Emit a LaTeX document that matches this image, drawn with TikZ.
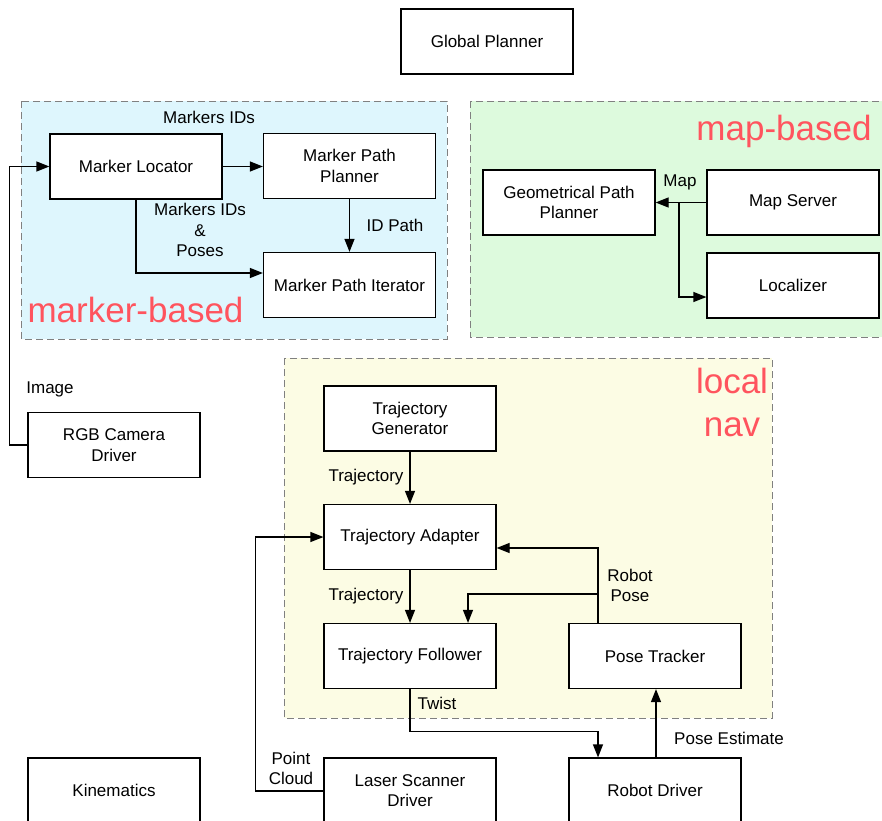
\documentclass[tikz,border=0pt]{standalone}
\usepackage{fontspec}
\setmainfont{Liberation Sans}
\usetikzlibrary{arrows.meta}
\definecolor{grpred}{RGB}{255,84,94}
\definecolor{cyanfill}{RGB}{222,246,253}
\definecolor{greenfill}{RGB}{221,250,221}
\definecolor{yellowfill}{RGB}{252,252,228}
\definecolor{dashgray}{RGB}{128,128,128}
\tikzset{
  blk/.style={draw=black, fill=white, line width=1.2pt, minimum width=172pt, minimum height=65pt,
    align=center, inner sep=2pt, font=\fontsize{17}{20.5}\selectfont},
  lbl/.style={inner sep=0pt, align=center, font=\fontsize{17}{20.5}\selectfont},
  grplbl/.style={inner sep=0pt, align=center, text=grpred, font=\fontsize{35}{43}\selectfont},
  grp/.style={draw=dashgray, line width=1pt, dash pattern=on 7pt off 4pt},
  arr/.style={line width=1.2pt, -{Triangle[length=13pt, width=10pt]}},
}
\begin{document}
\begin{tikzpicture}[x=1pt, y=-1pt]
\useasboundingbox (0,0) rectangle (882,820);
% groups
\draw[grp, fill=cyanfill] (21,101) rectangle (447,339);
\draw[grp, fill=greenfill] (470,101) rectangle (895,337);
\draw[grp, fill=yellowfill] (284,358) rectangle (772,718);
% group labels
\node[grplbl] (lblmarker) at (135.5,310) {marker-based};
\node[grplbl] (lblmap) at (784,131) {map-based};
\node[grplbl] (lbllocal) at (732,402) {local\\nav};
% blocks
\node[blk] (GP) at (487,41.5) {Global Planner};
\node[blk] (ML) at (136,166.5) {Marker Locator};
\node[blk] (MPP) at (349.5,166) {Marker Path\\Planner};
\node[blk] (MPI) at (349.5,285) {Marker Path Iterator};
\node[blk] (GPP) at (569,202.5) {Geometrical Path\\Planner};
\node[blk] (MS) at (793,202.5) {Map Server};
\node[blk] (LOC) at (793,285.5) {Localizer};
\node[blk] (RGB) at (114,445) {RGB Camera\\Driver};
\node[blk] (TG) at (410,418.5) {Trajectory\\Generator};
\node[blk] (TA) at (410,537) {Trajectory Adapter};
\node[blk] (TF) at (410,656) {Trajectory Follower};
\node[blk] (PT) at (655,656) {Pose Tracker};
\node[blk] (RD) at (655,790.5) {Robot Driver};
\node[blk] (LSD) at (410,790.5) {Laser Scanner\\Driver};
\node[blk] (KIN) at (114,790.5) {Kinematics};
% connectors
\draw[arr] (ML.east) -- (ML.east -| MPP.west);
\draw[arr] (MPP.south) -- (MPI.north);
\draw[arr] (ML.south) |- ([yshift=12pt]MPI.west);
\draw[arr] (RGB.west) -- ++(-18,0) |- (ML.west);
\draw[arr] (MS.west |- GPP.east) -- (GPP.east);
\coordinate (mapbr) at (679,202.5);
\draw[arr] (mapbr) |- ([yshift=-11.5pt]LOC.west);
\draw[arr] (TG.south) -- (TA.north);
\draw[arr] (TA.south) -- (TF.north);
\draw[arr] ([xshift=-57pt]PT.north) |- ([yshift=-11pt]TA.east);
\coordinate (posebr) at (598,594);
\draw[arr] (posebr) -| ([xshift=58pt]TF.north);
\draw[arr] (TF.south) -- ++(0,42) -| ([xshift=-57pt]RD.north);
\draw[arr] ([xshift=1pt]RD.north) -- ([xshift=1pt]PT.south);
\draw[arr] ([yshift=-0.5pt]LSD.west) -- ++(-68,0) |- (TA.west);
% connector labels
\node[lbl] (tMids) at (209,117) {Markers IDs};
\node[lbl] (tMidsP) at (200,230) {Markers IDs\\\&\\Poses};
\node[lbl] (tIDP) at (395,225) {ID Path};
\node[lbl] (tMap) at (680,182) {Map};
\node[lbl] (tImg) at (50,389) {Image};
\node[lbl] (tTr1) at (366,477) {Trajectory};
\node[lbl] (tTr2) at (366,596) {Trajectory};
\node[lbl] (tRP) at (630,585.5) {Robot\\Pose};
\node[lbl] (tTw) at (437,703) {Twist};
\node[lbl] (tPE) at (729,738) {Pose Estimate};
\node[lbl] (tPC) at (291,768.5) {Point\\Cloud};
\end{tikzpicture}
\end{document}
